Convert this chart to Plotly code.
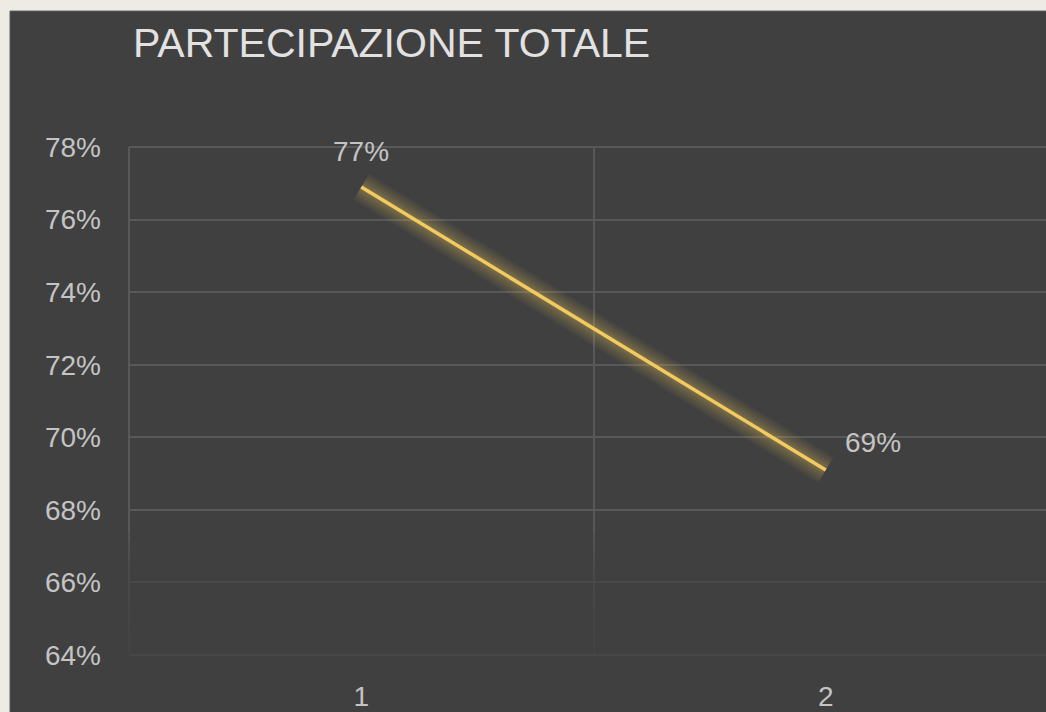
import plotly.graph_objects as go

categories = [1, 2]
values = [0.769, 0.691]
labels = ["77%", "69%"]
y_ticks = [0.64, 0.66, 0.68, 0.70, 0.72, 0.74, 0.76, 0.78]
y_tick_text = ["64%", "66%", "68%", "70%", "72%", "74%", "76%", "78%"]
title_text = "PARTECIPAZIONE TOTALE"

W, H = 1046, 712
ml, mr, mt, mb = 129, 0, 147, 53
pw, ph = W - ml - mr, H - mt - mb
FONT = "Liberation Sans, Arial, sans-serif"
GRID = "#585858"
TXT = "#C4C4C4"

def px_x(p):
    return (p - ml) / pw

def px_y(p):
    return (H - mb - p) / ph

fig = go.Figure()

# soft glow layers
for w in [30, 25, 20, 16, 12, 9, 6]:
    fig.add_trace(go.Scatter(x=categories, y=values, mode="lines",
                             line=dict(color="rgba(240,200,90,0.055)", width=w),
                             hoverinfo="skip", showlegend=False))
fig.add_trace(go.Scatter(x=categories, y=values, mode="lines",
                         line=dict(color="#F3CA5F", width=3.5),
                         showlegend=False))

# data labels
offsets = [(0, 35), (47, 27)]
for c, v, t, (dx, dy) in zip(categories, values, labels, offsets):
    fig.add_annotation(x=c, y=v, text=t, showarrow=False, xshift=dx, yshift=dy,
                       font=dict(family=FONT, size=28, color=TXT))

# dark card background
fig.add_shape(type="rect", xref="paper", yref="paper", layer="below",
              x0=px_x(10), x1=1.05, y0=-0.2, y1=px_y(10),
              fillcolor="#404040", line=dict(color="#5A5A5A", width=1))

# boundary grid lines (edges of the range)
fig.add_shape(type="line", xref="paper", yref="paper", layer="below",
              x0=0, x1=1, y0=1, y1=1, line=dict(color=GRID, width=2))
fig.add_shape(type="line", xref="paper", yref="paper", layer="below",
              x0=0, x1=0, y0=0, y1=1, line=dict(color=GRID, width=2))

# bottom fade of the plot area
n = 12
for i in range(n):
    top = 535 + i * (110 / n)
    fig.add_shape(type="rect", xref="paper", yref="paper", layer="above",
                  x0=-0.003, x1=1.01, y0=-0.01, y1=px_y(top),
                  fillcolor="#404040", opacity=0.15, line=dict(width=0))

# faint bottom line
fig.add_shape(type="line", xref="paper", yref="paper", layer="above",
              x0=0, x1=1, y0=0, y1=0, line=dict(color="#474747", width=2))

fig.add_annotation(xref="paper", yref="paper", x=px_x(131), y=px_y(42),
                   xanchor="left", yanchor="middle", showarrow=False, text=title_text,
                   font=dict(family=FONT, size=41, color="#E2E2E2"))

fig.update_layout(
    width=W, height=H,
    margin=dict(l=ml, r=mr, t=mt, b=mb),
    paper_bgcolor="#EEEBE4",
    plot_bgcolor="rgba(0,0,0,0)",
    xaxis=dict(range=[0.5, 1 + (W - 362) / 464], tickvals=categories,
               ticktext=[str(c) for c in categories], showgrid=False, zeroline=False,
               showline=False, ticks="", ticklen=0, ticklabelstandoff=22,
               tickfont=dict(family=FONT, size=28, color=TXT),
               minor=dict(tickvals=[1.5], showgrid=True, gridcolor=GRID, gridwidth=2)),
    yaxis=dict(range=[0.64, 0.78], tickvals=y_ticks, ticktext=y_tick_text,
               showgrid=True, gridcolor=GRID, gridwidth=2, zeroline=False, showline=False,
               ticks="", ticklen=0, ticklabelstandoff=27,
               tickfont=dict(family=FONT, size=28, color=TXT)),
)

fig.write_html("out.html", config={"displayModeBar": False},
               post_script="document.body.style.margin='0px';")
